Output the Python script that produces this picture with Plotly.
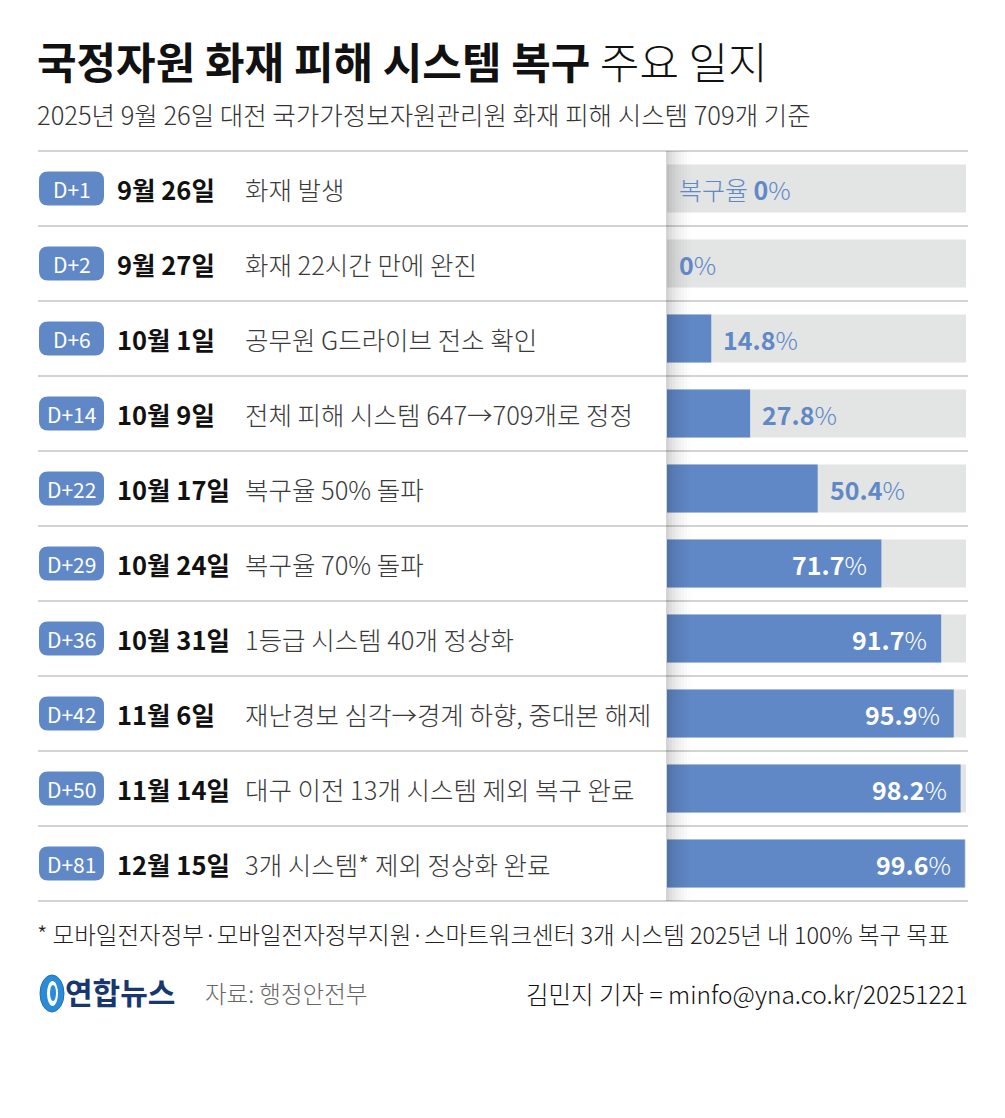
import plotly.graph_objects as go

W, H = 1005, 1118
OFF = 8  # page body margin

# ---- data ----
days = ["D+1", "D+2", "D+6", "D+14", "D+22", "D+29", "D+36", "D+42", "D+50", "D+81"]
dates = ["9월 26일", "9월 27일", "10월 1일", "10월 9일", "10월 17일", "10월 24일",
         "10월 31일", "11월 6일", "11월 14일", "12월 15일"]
events = ["화재 발생", "화재 22시간 만에 완진", "공무원 G드라이브 전소 확인",
          "전체 피해 시스템 647→709개로 정정", "복구율 50% 돌파", "복구율 70% 돌파",
          "1등급 시스템 40개 정상화", "재난경보 심각→경계 하향, 중대본 해제",
          "대구 이전 13개 시스템 제외 복구 완료", "3개 시스템* 제외 정상화 완료"]
rates = [0, 0, 14.8, 27.8, 50.4, 71.7, 91.7, 95.9, 98.2, 99.6]
rate_prefix = ["복구율 ", "", "", "", "", "", "", "", "", ""]
full_scale = [100] * len(days)

title_bold = "국정자원 화재 피해 시스템 복구"
title_light = "주요 일지"
subtitle = "2025년 9월 26일 대전 국가가정보자원관리원 화재 피해 시스템 709개 기준"
footnote = "* 모바일전자정부·모바일전자정부지원·스마트워크센터 3개 시스템 2025년 내 100% 복구 목표"
source = "자료: 행정안전부"
byline = "김민지 기자 = minfo@yna.co.kr/20251221"
logo_text = "연합뉴스"

# ---- style ----
FONT = "Noto Sans CJK KR"
BLUE = "#6088c6"
GRAY_BG = "#e3e4e4"
LINE = "#c4c4c4"

TOP, ROW_H = 151, 75
N = len(days)
BOTTOM = TOP + ROW_H * N
BAR_X0, BAR_X1 = 667, 966
LEFT, RIGHT = 38, 968

fig = go.Figure()
fig.add_trace(go.Bar(x=full_scale, y=days, orientation="h", marker=dict(color=GRAY_BG, line_width=0),
                     width=0.64, xaxis="x2", yaxis="y2", hoverinfo="skip"))
fig.add_trace(go.Bar(x=rates, y=days, orientation="h", marker=dict(color=BLUE, line_width=0),
                     width=0.64, xaxis="x2", yaxis="y2", hoverinfo="skip"))

shapes = []
annotations = []

for k in range(N + 1):
    y = TOP + ROW_H * k
    shapes.append(dict(type="line", xref="x", yref="y", x0=LEFT, x1=RIGHT, y0=y, y1=y,
                       line=dict(color=LINE, width=1.5), layer="above"))

shade = [0.17, 0.13, 0.10, 0.075, 0.055, 0.038, 0.024, 0.012]
for j, op in enumerate(shade):
    shapes.append(dict(type="rect", xref="x", yref="y", x0=BAR_X0 - 1 + 3 * j, x1=BAR_X0 - 1 + 3 * (j + 1),
                       y0=TOP, y1=BOTTOM, fillcolor="black", opacity=op, line_width=0, layer="above"))


def rounded_rect(x0, y0, x1, y1, r):
    return (f"M{x0+r},{y0} L{x1-r},{y0} Q{x1},{y0} {x1},{y0+r} L{x1},{y1-r} Q{x1},{y1} {x1-r},{y1} "
            f"L{x0+r},{y1} Q{x0},{y1} {x0},{y1-r} L{x0},{y0+r} Q{x0},{y0} {x0+r},{y0} Z")


for i in range(N):
    cy = TOP + ROW_H * (i + 0.5)
    shapes.append(dict(type="path", xref="x", yref="y",
                       path=rounded_rect(39, cy - 17, 104, cy + 17, 9),
                       fillcolor=BLUE, line_width=0, layer="above"))
    annotations.append(dict(xref="x", yref="y2", x=71.5, y=days[i], text=days[i], showarrow=False,
                            xanchor="center", yanchor="middle",
                            font=dict(family=FONT, size=21, color="white")))
    annotations.append(dict(xref="x", yref="y2", x=115, y=days[i], text=f"<b>{dates[i]}</b>", showarrow=False,
                            xanchor="left", yanchor="middle",
                            font=dict(family=FONT, size=25.5, color="#111111")))
    annotations.append(dict(xref="x", yref="y2", x=243, y=days[i], text=events[i], showarrow=False,
                            xanchor="left", yanchor="middle",
                            font=dict(family=FONT, size=25.5, color="#3a3a3a", weight=300)))
    v = rates[i]
    inside = v >= 60
    annotations.append(dict(xref="x2", yref="y2", x=v, y=days[i],
                            text=f"{rate_prefix[i]}<b>{v:g}</b>%", showarrow=False,
                            xanchor="right" if inside else "left",
                            xshift=-12 if inside else 10, yanchor="middle",
                            font=dict(family=FONT, size=25, color="white" if inside else BLUE, weight=300)))

annotations.append(dict(xref="x", yref="y", x=35, y=60, text=f"<b>{title_bold}</b> {title_light}",
                        showarrow=False, xanchor="left", yanchor="middle",
                        font=dict(family=FONT, size=43, color="#111111", weight=300)))
annotations.append(dict(xref="x", yref="y", x=35, y=113, text=subtitle, showarrow=False,
                        xanchor="left", yanchor="middle",
                        font=dict(family=FONT, size=25.5, color="#333333", weight=300)))
annotations.append(dict(xref="x", yref="y", x=35, y=934, text=footnote, showarrow=False,
                        xanchor="left", yanchor="middle",
                        font=dict(family=FONT, size=23.5, color="#222222", weight=300)))
annotations.append(dict(xref="x", yref="y", x=203, y=993, text=source, showarrow=False,
                        xanchor="left", yanchor="middle",
                        font=dict(family=FONT, size=23.5, color="#666666", weight=300)))
annotations.append(dict(xref="x", yref="y", x=RIGHT + 2, y=993, text=byline, showarrow=False,
                        xanchor="right", yanchor="middle",
                        font=dict(family=FONT, size=24.5, color="#111111", weight=300)))
# logo
shapes.append(dict(type="circle", xref="x", yref="y", x0=40, x1=64, y0=975, y1=1012,
                   fillcolor="#2a8bd6", line=dict(color="#1f6fb5", width=1), layer="above"))
shapes.append(dict(type="circle", xref="x", yref="y", x0=47, x1=58, y0=981, y1=1006,
                   fillcolor="white", line_width=0, layer="above"))
shapes.append(dict(type="circle", xref="x", yref="y", x0=50, x1=56, y0=985, y1=1001,
                   fillcolor="#2a8bd6", line_width=0, layer="above"))
annotations.append(dict(xref="x", yref="y", x=63, y=991, text=f"<b>{logo_text}</b>", showarrow=False,
                        xanchor="left", yanchor="middle",
                        font=dict(family=FONT, size=30, color="#17376e")))

fig.update_layout(
    width=W, height=H, margin=dict(l=0, r=0, t=0, b=0),
    paper_bgcolor="white", plot_bgcolor="rgba(0,0,0,0)",
    barmode="overlay", showlegend=False,
    xaxis=dict(range=[OFF, W + OFF], domain=[0, 1], visible=False, fixedrange=True),
    yaxis=dict(range=[H + OFF, OFF], domain=[0, 1], visible=False, fixedrange=True),
    xaxis2=dict(range=[0, 100], domain=[(BAR_X0 - OFF) / W, (BAR_X1 - OFF) / W], anchor="y2",
                visible=False, fixedrange=True),
    yaxis2=dict(categoryorder="array", categoryarray=days, range=[N - 0.5, -0.5],
                domain=[1 - (BOTTOM - OFF) / H, 1 - (TOP - OFF) / H], anchor="x2",
                visible=False, fixedrange=True),
    shapes=shapes, annotations=annotations,
)

fig.write_html("out.html", config={"displayModeBar": False})
